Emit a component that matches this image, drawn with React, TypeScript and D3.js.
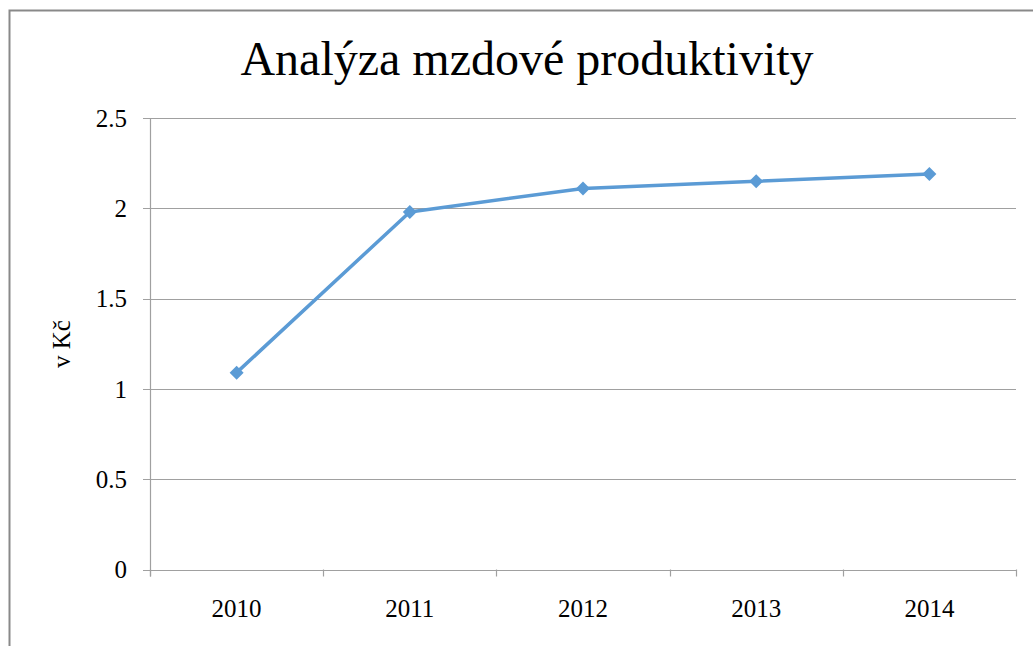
import React from "react";
import * as d3 from "d3";

const categories = ["2010", "2011", "2012", "2013", "2014"];
const values = [1.09, 1.98, 2.11, 2.15, 2.19];
const yTicks = [0, 0.5, 1, 1.5, 2, 2.5];
const yTickLabels = ["0", "0.5", "1", "1.5", "2", "2.5"];
const title = "Analýza mzdové produktivity";
const yTitle = "v Kč";

export default function App() {
  const W = 1033, H = 646;
  const left = 150, right = 1016, top = 118, bottom = 569.5;
  const x = d3.scaleBand<string>().domain(categories).range([left, right]).paddingInner(0).paddingOuter(0);
  const y = d3.scaleLinear().domain([0, 2.5]).range([bottom, top]);
  const line = d3.line<number>().x((_, i) => (x(categories[i]) as number) + x.bandwidth() / 2).y((d) => y(d));
  const font = "Liberation Serif";
  const boundaries = [...categories.map((c) => x(c) as number), right];
  return (
    <svg width={W} height={H} style={{ position: "absolute", left: 0, top: 0 }}>
      <rect x={0} y={0} width={W} height={H} fill="#fff" />
      <path d={`M9.5,${H + 5} V10.5 H${W + 5}`} fill="none" stroke="#898989" strokeWidth={2} />
      <text x={527} y={75} textAnchor="middle" fontFamily={font} fontSize={48} fill="#000">{title}</text>
      {yTicks.map((t) => (
        <line key={"g" + t} x1={left - 7} x2={right} y1={Math.round(y(t)) + 0.5} y2={Math.round(y(t)) + 0.5} stroke="#a0a0a0" strokeWidth={1.2} />
      ))}
      <line x1={left + 0.5} x2={left + 0.5} y1={top} y2={bottom + 7} stroke="#a0a0a0" strokeWidth={1.2} />
      {boundaries.map((b, i) => (
        <line key={"xt" + i} x1={Math.round(b) + 0.5} x2={Math.round(b) + 0.5} y1={bottom} y2={bottom + 7} stroke="#a0a0a0" strokeWidth={1.2} />
      ))}
      {yTicks.map((t, i) => (
        <text key={"yl" + t} x={127} y={y(t)} dy="0.35em" textAnchor="end" fontFamily={font} fontSize={25} fill="#000">{yTickLabels[i]}</text>
      ))}
      {categories.map((c) => (
        <text key={"xl" + c} x={(x(c) as number) + x.bandwidth() / 2} y={617} textAnchor="middle" fontFamily={font} fontSize={25} fill="#000">{c}</text>
      ))}
      <text transform={`translate(70,344) rotate(-90)`} textAnchor="middle" fontFamily={font} fontSize={25} fill="#000">{yTitle}</text>
      <path d={line(values) || ""} fill="none" stroke="#5b9bd5" strokeWidth={3.5} strokeLinejoin="round" />
      {values.map((v, i) => {
        const cx = (x(categories[i]) as number) + x.bandwidth() / 2;
        const cy = y(v);
        return <path key={"m" + i} d={`M${cx},${cy - 7} L${cx + 7},${cy} L${cx},${cy + 7} L${cx - 7},${cy} Z`} fill="#5b9bd5" />;
      })}
    </svg>
  );
}
